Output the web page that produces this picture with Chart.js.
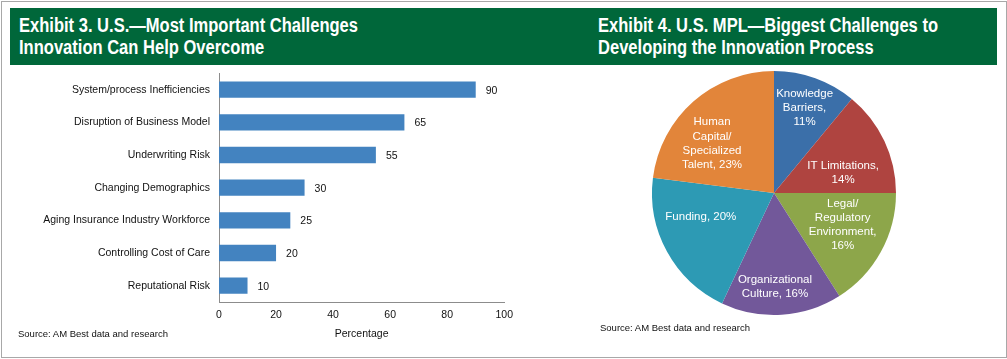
<!DOCTYPE html>
<html>
<head>
<meta charset="utf-8">
<script src="https://cdn.jsdelivr.net/npm/chart.js@4.4.1/dist/chart.umd.min.js"></script>
<style>
  html, body { margin: 0; padding: 0; background: #fff; }
  body { width: 1007px; height: 359px; position: relative; overflow: hidden; font-family: "Liberation Sans", Arial, sans-serif; }
  #frame { position: absolute; left: 1px; top: 1px; width: 1006px; height: 357px; border: 1px solid #a8a8a8; box-sizing: border-box; }
  #header { position: absolute; left: 10px; top: 8px; width: 987px; height: 57px; background: #00673A; }
  .title { position: absolute; top: 14px; color: #fff; font-family: "Liberation Sans", Arial, sans-serif; font-weight: bold; font-size: 19.5px; line-height: 22px; white-space: nowrap; transform-origin: 0 0; }
  .source { position: absolute; font-size: 9.5px; color: #111; white-space: nowrap; }
  canvas { position: absolute; }
</style>
</head>
<body>
<div id="frame"></div>
<div id="header"></div>
<div class="title" id="t1" style="left:19px"><span>Exhibit 3. U.S.—Most Important Challenges</span><br>Innovation Can Help Overcome</div>
<div class="title" id="t2" style="left:598px"><span>Exhibit 4. U.S. MPL—Biggest Challenges to</span><br>Developing the Innovation Process</div>
<div style="position:absolute;left:0;top:58px;width:520px;height:288px"><canvas id="barChart"></canvas></div>
<div style="position:absolute;left:640px;top:66px;width:268px;height:254px"><canvas id="pieChart"></canvas></div>
<div class="source" style="left:18px;top:328px">Source: AM Best data and research</div>
<div class="source" style="left:600px;top:322px">Source: AM Best data and research</div>
<script>
// Exhibit 3 data
var challenges = ['System/process Inefficiencies', 'Disruption of Business Model', 'Underwriting Risk',
    'Changing Demographics', 'Aging Insurance Industry Workforce', 'Controlling Cost of Care', 'Reputational Risk'];
var percentages = [90, 65, 55, 30, 25, 20, 10];
var xTicks = [0, 20, 40, 60, 80, 100];

// Exhibit 4 data
var obstacles = ['Knowledge Barriers', 'IT Limitations', 'Legal/ Regulatory Environment',
    'Organizational Culture', 'Funding', 'Human Capital/ Specialized Talent'];
var shares = [11, 14, 16, 16, 20, 23];
// how each slice label wraps (last word gets ", nn%")
var labelLines = [['Knowledge', 'Barriers,'], ['IT Limitations,'], ['Legal/', 'Regulatory', 'Environment,'],
    ['Organizational', 'Culture,'], ['Funding,'], ['Human', 'Capital/', 'Specialized', 'Talent,']];
var ownLine = [true, true, true, false, false, false]; // percent on its own line?

// condensed look for the headings: squeeze first line to the reference width
[['t1', 339], ['t2', 340]].forEach(function (t) {
    var el = document.getElementById(t[0]);
    var w = el.querySelector('span').getBoundingClientRect().width;
    el.style.transform = 'scaleX(' + (t[1] / w) + ')';
});

Chart.defaults.font.family = '"Liberation Sans", Arial, sans-serif';
Chart.defaults.color = '#111';
Chart.defaults.animation = false;

// value labels at bar ends
var barValues = {
    id: 'barValues',
    afterDatasetsDraw(chart) {
        var ctx = chart.ctx;
        var meta = chart.getDatasetMeta(0);
        ctx.save();
        ctx.font = '10.5px "Liberation Sans", Arial, sans-serif';
        ctx.fillStyle = '#111';
        ctx.textAlign = 'left';
        ctx.textBaseline = 'middle';
        meta.data.forEach(function (bar, i) {
            ctx.fillText(chart.data.datasets[0].data[i], bar.x + 10, bar.y + 1);
        });
        ctx.restore();
    }
};

new Chart(document.getElementById('barChart'), {
    type: 'bar',
    data: {
        labels: challenges,
        datasets: [{
            data: percentages,
            backgroundColor: '#4383C0',
            borderWidth: 0,
            barPercentage: 0.5,
            categoryPercentage: 1.0
        }]
    },
    options: {
        indexAxis: 'y',
        responsive: true,
        maintainAspectRatio: false,
        layout: { padding: { top: 0, right: 14, left: 0, bottom: 0 } },
        plugins: { legend: { display: false }, tooltip: { enabled: false } },
        scales: {
            x: {
                min: 0, max: 100,
                afterBuildTicks: function (s) { s.ticks = xTicks.map(function (v) { return { value: v }; }); },
                afterFit: function (s) { s.height = 44; },
                grid: { display: false, drawTicks: false },
                border: { display: true, color: '#8c8c8c', width: 1 },
                ticks: { padding: 7, font: { size: 10.5 }, color: '#111', maxRotation: 0 },
                title: { display: true, text: 'Percentage', font: { size: 10.5 }, color: '#111', padding: { top: 0, bottom: 6 } }
            },
            y: {
                afterFit: function (s) { s.width = 219; },
                grid: { display: false, drawTicks: false },
                border: { display: true, color: '#8c8c8c', width: 1 },
                ticks: { padding: 9, font: { size: 10.5 }, color: '#111' }
            }
        }
    },
    plugins: [barValues]
});

// slice labels, placed along each slice's mid angle
var labelPlace = [[0.74, 0], [0.59, 9], [0.62, -4], [0.77, 3], [0.63, 11], [0.65, -10]];
var pieLabels = {
    id: 'pieLabels',
    afterDatasetsDraw(chart) {
        var ctx = chart.ctx;
        var meta = chart.getDatasetMeta(0);
        ctx.save();
        ctx.font = '11.5px "Liberation Sans", Arial, sans-serif';
        ctx.fillStyle = '#fff';
        ctx.textAlign = 'center';
        ctx.textBaseline = 'middle';
        meta.data.forEach(function (arc, i) {
            var p = arc.getProps(['x', 'y', 'startAngle', 'endAngle', 'outerRadius'], true);
            var mid = (p.startAngle + p.endAngle) / 2 + labelPlace[i][1] * Math.PI / 180;
            var r = p.outerRadius * labelPlace[i][0];
            var cx = p.x + Math.cos(mid) * r;
            var cy = p.y + Math.sin(mid) * r;
            var lines = labelLines[i].slice();
            var pct = shares[i] + '%';
            if (ownLine[i]) lines.push(pct);
            else lines[lines.length - 1] += ' ' + pct;
            var lh = 14.2;
            var top = cy - (lines.length - 1) * lh / 2;
            lines.forEach(function (t, k) { ctx.fillText(t, cx, top + k * lh); });
        });
        ctx.restore();
    }
};

new Chart(document.getElementById('pieChart'), {
    type: 'pie',
    data: {
        labels: obstacles,
        datasets: [{
            data: shares,
            backgroundColor: ['#3B6FA9', '#AF4440', '#8DA64A', '#72589A', '#2D9AB4', '#E2853A'],
            borderWidth: 0
        }]
    },
    options: {
        responsive: true,
        maintainAspectRatio: false,
        layout: { padding: 5 },
        plugins: { legend: { display: false }, tooltip: { enabled: false } }
    },
    plugins: [pieLabels]
});
</script>
</body>
</html>
